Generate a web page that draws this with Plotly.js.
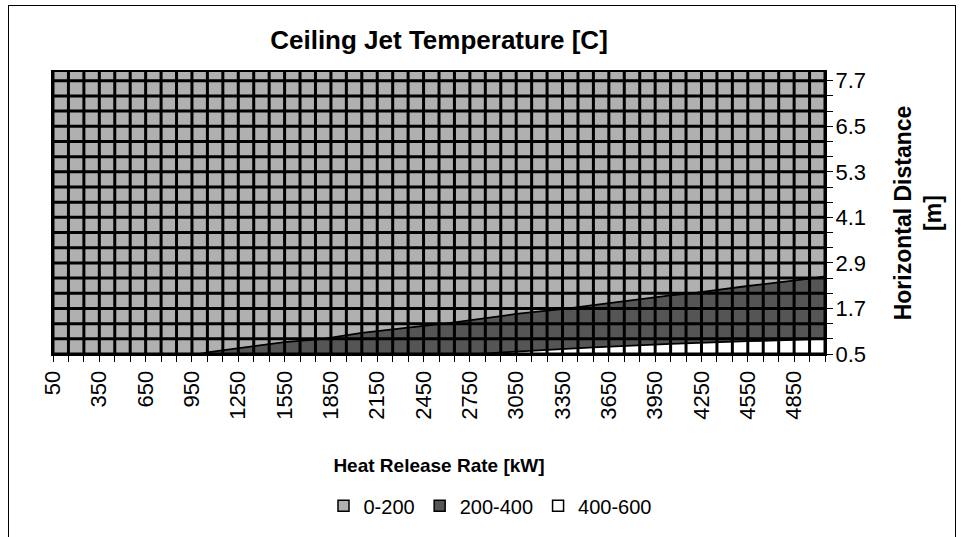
<!DOCTYPE html>
<html>
<head>
<meta charset="utf-8">
<script src="https://cdn.plot.ly/plotly-3.0.1.min.js"></script>
<style>
  html, body { margin: 0; padding: 0; background: #fff; overflow: hidden; }
  #chart { width: 961px; height: 537px; }
  #frame { position: absolute; left: 8px; top: 5px; width: 946px; height: 560px;
           border: 1px solid #000; pointer-events: none; }
</style>
</head>
<body>
<div id="chart"></div>
<div id="frame"></div>
<script>
// Category (x) axis: heat release rate [kW], one grid column per category
const hrrCategories = [50,150,250,350,450,550,650,750,850,950,1050,1150,1250,1350,1450,1550,1650,1750,
  1850,1950,2050,2150,2250,2350,2450,2550,2650,2750,2850,2950,3050,3150,3250,3350,3450,3550,3650,
  3750,3850,3950,4050,4150,4250,4350,4450,4550,4650,4750,4850,4950,5050];
// Series (y) axis: horizontal distance [m], one grid row per series
const distanceSeries = [0.5,0.9,1.3,1.7,2.1,2.5,2.9,3.3,3.7,4.1,4.5,4.9,5.3,5.7,6.1,6.5,6.9,7.3,7.7];
// Tick labels
const hrrTickLabels = [50,350,650,950,1250,1550,1850,2150,2450,2750,3050,3350,3650,3950,4250,4550,4850];
const distTickLabels = [0.5,1.7,2.9,4.1,5.3,6.5,7.7];

// Temperature samples [C] (rows = distance, cols = HRR)
const sampleHrr = [50,550,1050,1550,2050,2550,3050,3550,4050,4550,5050];
const sampleDist = [0.5,0.9,1.3,1.7,2.1,2.5,2.9,3.3,4.1,5.3,6.5,7.7];
const temperature = [
  [27,135,207,268,323,374,422,467,510,550,590],
  [18, 91,140,181,219,253,285,315,344,372,399],
  [14, 71,110,142,171,198,223,247,270,291,312],
  [12, 60, 92,119,143,165,187,206,225,243,261],
  [10, 52, 80,103,124,144,162,179,196,211,227],
  [ 9, 46, 71, 92,111,128,144,160,174,188,202],
  [ 8, 42, 64, 83,100,116,131,145,158,171,183],
  [ 8, 38, 59, 76, 92,106,120,133,145,156,168],
  [ 7, 33, 51, 66, 80, 92,104,115,125,135,145],
  [ 6, 28, 43, 56, 67, 78, 87, 97,106,114,122],
  [ 5, 24, 37, 49, 59, 68, 76, 84, 92,100,107],
  [ 4, 22, 33, 43, 52, 60, 68, 75, 82, 89, 95]
];
const bandNames = ['0-200','200-400','400-600'];
const bandColors = ['#b0b0b0','#555555','#ffffff'];

const FONT = 'Liberation Sans, Arial, Helvetica, sans-serif';

// grid lines built from the category / series arrays
const yTop = 7.93;
const gx = [], gy = [];
hrrCategories.forEach(v => { gx.push(v, v, null); gy.push(distanceSeries[0], yTop, null); });
distanceSeries.forEach(v => { gx.push(hrrCategories[0], hrrCategories[hrrCategories.length-1], null); gy.push(v, v, null); });

const traces = [
  {
    type: 'contour',
    x: sampleHrr, y: sampleDist, z: temperature,
    autocontour: false,
    contours: { start: 200, end: 400, size: 200, coloring: 'fill', showlines: true },
    colorscale: [[0, bandColors[0]], [0.33, bandColors[0]], [0.34, bandColors[1]],
                 [0.66, bandColors[1]], [0.67, bandColors[2]], [1, bandColors[2]]],
    line: { color: '#000', width: 1.8, smoothing: 0 },
    showscale: false, showlegend: false, hoverinfo: 'skip'
  },
  {
    type: 'scatter', mode: 'lines', x: gx, y: gy,
    line: { color: '#000', width: 3 }, showlegend: false, hoverinfo: 'skip'
  }
];
bandNames.forEach((n, i) => traces.push({
  type: 'scatter', mode: 'markers', x: [null], y: [null], name: n,
  marker: { symbol: 'square', size: 11, color: bandColors[i], line: { color: '#000', width: 1.5 } }
}));

const layout = {
  width: 961, height: 537,
  margin: { l: 53, r: 136, t: 72, b: 175 },
  paper_bgcolor: '#fff', plot_bgcolor: bandColors[0],
  font: { family: FONT, color: '#000', size: 20 },
  title: { text: '<b>Ceiling Jet Temperature [C]</b>', font: { family: FONT, size: 26, color: '#000' },
           x: 0.5, xref: 'paper', y: 1 - 40/537, yref: 'container', yanchor: 'middle' },
  xaxis: {
    range: [hrrCategories[0], hrrCategories[hrrCategories.length-1]],
    tickmode: 'array', tickvals: hrrTickLabels, ticktext: hrrTickLabels.map(String),
    tickangle: -90, ticks: 'outside', ticklen: 6, tickwidth: 1, tickcolor: '#000',
    minor: { tickmode: 'array', tickvals: hrrCategories, ticks: 'outside', ticklen: 6, tickwidth: 1, tickcolor: '#000', showgrid: false },
    showgrid: false, zeroline: false, showline: true, linecolor: '#000', linewidth: 2, mirror: true,
    tickfont: { family: FONT, size: 22 },
    title: { text: '<b>Heat Release Rate [kW]</b>', font: { family: FONT, size: 19 }, standoff: 40 }
  },
  yaxis: {
    side: 'right',
    range: [distanceSeries[0], yTop],
    tickmode: 'array', tickvals: distTickLabels, ticktext: distTickLabels.map(v => v.toFixed(1)),
    ticks: 'outside', ticklen: 6, tickwidth: 1, tickcolor: '#000', ticklabelstandoff: -2,
    minor: { tickmode: 'array', tickvals: distanceSeries, ticks: 'outside', ticklen: 6, tickwidth: 1, tickcolor: '#000', showgrid: false },
    showgrid: false, zeroline: false, showline: true, linecolor: '#000', linewidth: 2, mirror: true,
    tickfont: { family: FONT, size: 22 },
    title: { text: '<b>Horizontal Distance<br>[m]</b>', font: { family: FONT, size: 23 }, standoff: 30 }
  },
  legend: {
    orientation: 'h', x: (490 - 53) / 772, xanchor: 'center', y: (362 - 518) / 290, yanchor: 'middle',
    font: { family: FONT, size: 20 }, bgcolor: 'rgba(0,0,0,0)', tracegroupgap: 0
  },
  showlegend: true
};

Plotly.newPlot('chart', traces, layout, { staticPlot: true, displayModeBar: false });
</script>
</body>
</html>
